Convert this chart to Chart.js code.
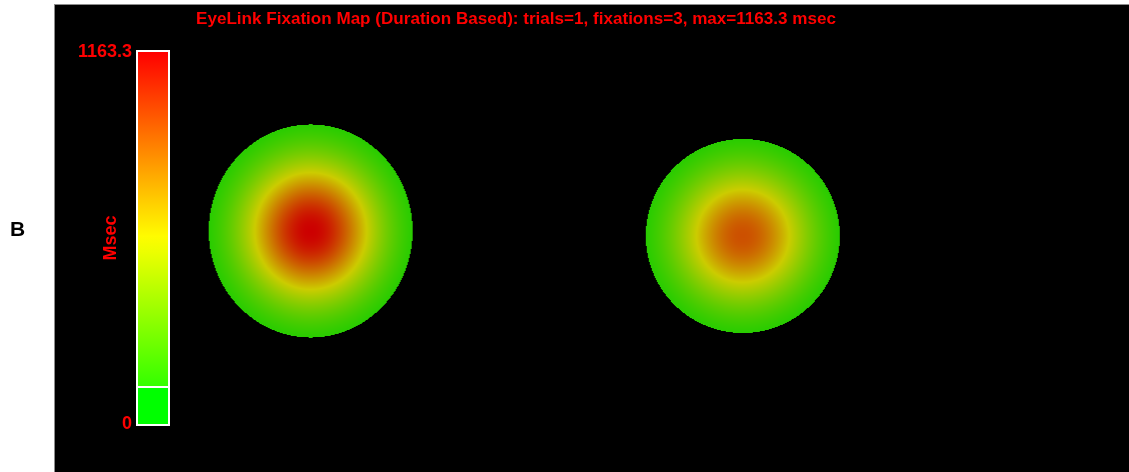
<!DOCTYPE html>
<html>
<head>
<meta charset="utf-8">
<title>EyeLink Fixation Map</title>
<script src="https://cdn.jsdelivr.net/npm/chart.js@4/dist/chart.umd.min.js"></script>
<style>
  html, body { margin: 0; padding: 0; background: #fff; }
  #wrap { width: 1129px; height: 472px; position: relative; }
</style>
</head>
<body>
<div id="wrap"><canvas id="map"></canvas></div>
<script>
// fixation map data (map coordinates, durations in msec)
const mapMax = 1163.3;
const mapThreshold = 116.33;        // 10% of max, lower values are not painted
const spotX = [175, 608];
const spotY = [179, 184];
const spotPeak = [1163.3, 935];
const barTicks = [0, 1163.3];

const titleText = 'EyeLink Fixation Map (Duration Based): trials=1, fixations=3, max=1163.3 msec';
const panelLabel = 'B';

// look of the spots
const spotSigma = 47.5;             // px spread of each gaussian spot
const spotAspect = [1.045, 1.0];    // vertical stretch
const spotBrightness = 0.8;

// value -> green..yellow..red, like the EyeLink palette
function paletteRGB(v, bright) {
  const f = Math.max(0, Math.min(1, v / mapMax));
  const h = 120 * (1 - f);
  let r, g;
  if (h <= 60) { r = 1; g = h / 60; } else { r = (120 - h) / 60; g = 1; }
  return [Math.round(r * bright * 255), Math.round(g * bright * 255), 0];
}

function makeSpot(peak, aspect) {
  const rx = spotSigma * Math.sqrt(2 * Math.log(peak / mapThreshold));
  const ry = rx * aspect;
  const w = Math.ceil(rx) * 2 + 2;
  const h = Math.ceil(ry) * 2 + 2;
  const c = document.createElement('canvas');
  c.width = w; c.height = h;
  const g = c.getContext('2d');
  const img = g.createImageData(w, h);
  for (let j = 0; j < h; j++) {
    for (let i = 0; i < w; i++) {
      const dx = i + 0.5 - w / 2;
      const dy = (j + 0.5 - h / 2) / aspect;
      const v = peak * Math.exp(-(dx * dx + dy * dy) / (2 * spotSigma * spotSigma));
      if (v < mapThreshold) continue;
      const [r, gg, b] = paletteRGB(v, spotBrightness);
      const k = (j * w + i) * 4;
      img.data[k] = r; img.data[k + 1] = gg; img.data[k + 2] = b; img.data[k + 3] = 255;
    }
  }
  g.putImageData(img, 0, 0);
  return c;
}

const spotImages = spotPeak.map((p, i) => makeSpot(p, spotAspect[i]));

const red = '#ff0000';

// page background, title text and panel letter
const backdrop = {
  id: 'backdrop',
  beforeDraw(chart) {
    const { ctx, width, height } = chart;
    ctx.save();
    ctx.fillStyle = '#ffffff';
    ctx.fillRect(0, 0, width, height);
    ctx.fillStyle = '#000000';
    ctx.fillRect(55, 5, width - 55, height - 5);
    ctx.fillStyle = '#8c8c8c';
    ctx.fillRect(54, 4, width - 54, 1);
    ctx.fillRect(54, 4, 1, height - 4);

    // title: tall condensed bold text, fitted to its width in the reference
    ctx.fillStyle = red;
    ctx.font = 'bold 17px "Liberation Sans", Arial, sans-serif';
    ctx.textBaseline = 'middle';
    ctx.textAlign = 'left';
    const tw = ctx.measureText(titleText).width;
    ctx.translate(196, 19.5);
    ctx.scale(640 / tw, 1);
    ctx.fillText(titleText, 0, 0);
    ctx.restore();

    ctx.save();
    ctx.fillStyle = '#000000';
    ctx.font = 'bold 21px "Liberation Sans", Arial, sans-serif';
    ctx.textAlign = 'center';
    ctx.textBaseline = 'middle';
    ctx.fillText(panelLabel, 17.5, 230);
    ctx.restore();
  }
};

// colour bar drawn against the 'cb' scale
const colorBar = {
  id: 'colorBar',
  afterDatasetsDraw(chart) {
    const { ctx, chartArea } = chart;
    const cb = chart.scales.cb;
    const top = cb.getPixelForValue(mapMax);
    const bot = cb.getPixelForValue(0);
    const thr = cb.getPixelForValue(mapThreshold);
    const x0 = chartArea.left + 2;
    const w = 30;
    ctx.save();
    ctx.fillStyle = '#00ff00';
    ctx.fillRect(x0, thr, w, bot - thr);
    const grad = ctx.createLinearGradient(0, thr, 0, top);
    for (let i = 0; i <= 20; i++) {
      const v = mapThreshold + (mapMax - mapThreshold) * i / 20;
      const [r, g, b] = paletteRGB(v, 1);
      grad.addColorStop(i / 20, `rgb(${r},${g},${b})`);
    }
    ctx.fillStyle = grad;
    ctx.fillRect(x0, top, w, thr - top);
    ctx.fillStyle = '#ffffff';
    ctx.fillRect(x0, Math.round(thr) - 1, w, 2);
    ctx.strokeStyle = '#ffffff';
    ctx.lineWidth = 2;
    ctx.strokeRect(x0 - 1, top - 1, w + 2, bot - top + 2);
    ctx.restore();
  }
};

new Chart(document.getElementById('map'), {
  type: 'scatter',
  data: {
    datasets: [{
      label: 'Fixation spots',
      data: spotX.map((x, i) => ({ x, y: spotY[i], v: spotPeak[i] })),
      pointStyle: (c) => spotImages[c.dataIndex],
      pointRadius: 1,
      pointHoverRadius: 1,
      clip: false
    }]
  },
  options: {
    responsive: true,
    maintainAspectRatio: false,
    animation: false,
    events: [],
    layout: { padding: { left: 55, top: 52, bottom: 48, right: 0 } },
    plugins: {
      legend: { display: false },
      tooltip: { enabled: false },
      title: { display: false }
    },
    scales: {
      x: { type: 'linear', min: 0, max: 993, display: false },
      y: { type: 'linear', min: 0, max: 372, reverse: true, display: false },
      cb: {
        type: 'linear',
        position: 'left',
        min: 0,
        max: mapMax,
        afterFit: (s) => { s.width = 81; },
        afterBuildTicks: (s) => { s.ticks = barTicks.map(v => ({ value: v })); },
        grid: { display: false, drawTicks: false },
        border: { display: false },
        ticks: {
          color: red,
          padding: 4,
          font: { family: '"Liberation Sans", Arial, sans-serif', size: 18, weight: 'bold' },
          callback: (v) => String(v)
        },
        title: {
          display: true,
          text: 'Msec',
          color: red,
          align: 'center',
          font: { family: '"Liberation Sans", Arial, sans-serif', size: 18, weight: 'bold' },
          padding: { top: 45, bottom: 0 }
        }
      }
    }
  },
  plugins: [backdrop, colorBar]
});
</script>
</body>
</html>
